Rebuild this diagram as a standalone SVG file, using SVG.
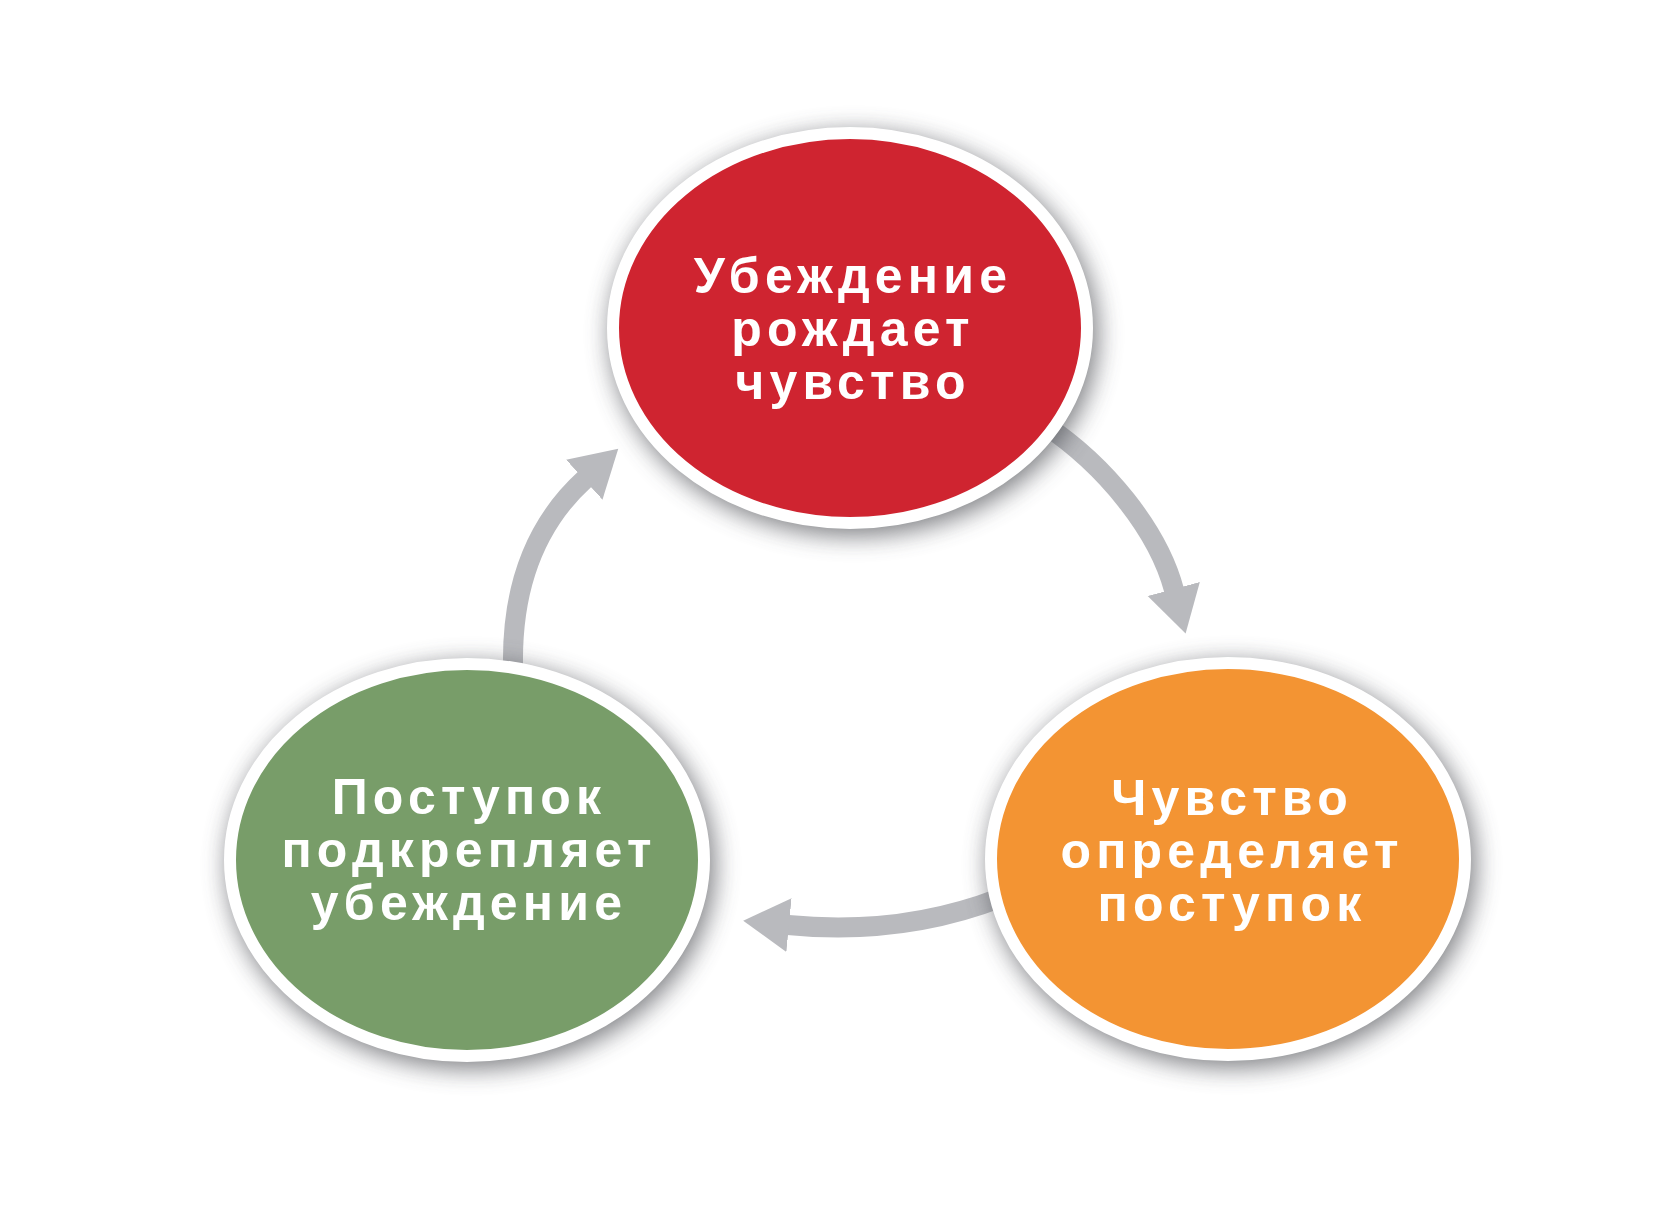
<svg xmlns="http://www.w3.org/2000/svg" width="1680" height="1207" viewBox="0 0 1680 1207">
  <defs>
    <filter id="shadow" x="-30%" y="-30%" width="160%" height="160%">
      <feGaussianBlur stdDeviation="12"/>
    </filter>
    <marker id="head" markerUnits="userSpaceOnUse" markerWidth="52" markerHeight="58" refX="1" refY="27" orient="auto">
      <path d="M0,0 L46,27 L0,54 Z" fill="#b9babe"/>
    </marker>
  </defs>
  <style>
    .shaft { fill: none; stroke: #b9babe; stroke-width: 20; marker-end: url(#head); }
    .shadow { fill: #505156; opacity: 0.72; filter: url(#shadow); }
    .disc { stroke: #ffffff; stroke-width: 12; }
    .label { font-family: "Liberation Sans", Arial, sans-serif; font-weight: bold; font-size: 50px; letter-spacing: 5.2px; fill: #ffffff; text-anchor: middle; }
  </style>
  <rect width="1680" height="1207" fill="#ffffff"/>
  <g id="connectors">
    <path class="shaft" d="M 513 664 C 512 580, 540 520, 585 479"/>
    <path class="shaft" d="M 1045 425 C 1105 465, 1158 530, 1174 590"/>
    <path class="shaft" d="M 1000 898 C 930 925, 860 932, 788 925"/>
  </g>
  <g id="node-belief">
    <ellipse class="shadow" cx="854" cy="334" rx="244" ry="202"/>
    <ellipse class="disc" cx="850" cy="328" rx="237" ry="195" fill="#cf2430"/>
    <text class="label" x="853" y="293">Убеждение</text>
    <text class="label" x="853" y="346">рождает</text>
    <text class="label" x="853" y="399">чувство</text>
  </g>
  <g id="node-feeling">
    <ellipse class="shadow" cx="1232" cy="865" rx="244" ry="203"/>
    <ellipse class="disc" cx="1228" cy="859" rx="237" ry="196" fill="#f39433"/>
    <text class="label" x="1232" y="815">Чувство</text>
    <text class="label" x="1232" y="868">определяет</text>
    <text class="label" x="1232" y="921">поступок</text>
  </g>
  <g id="node-action">
    <ellipse class="shadow" cx="471" cy="866" rx="244" ry="203"/>
    <ellipse class="disc" cx="467" cy="860" rx="237" ry="196" fill="#789d69"/>
    <text class="label" x="469" y="814">Поступок</text>
    <text class="label" x="469" y="867">подкрепляет</text>
    <text class="label" x="469" y="920">убеждение</text>
  </g>
</svg>
